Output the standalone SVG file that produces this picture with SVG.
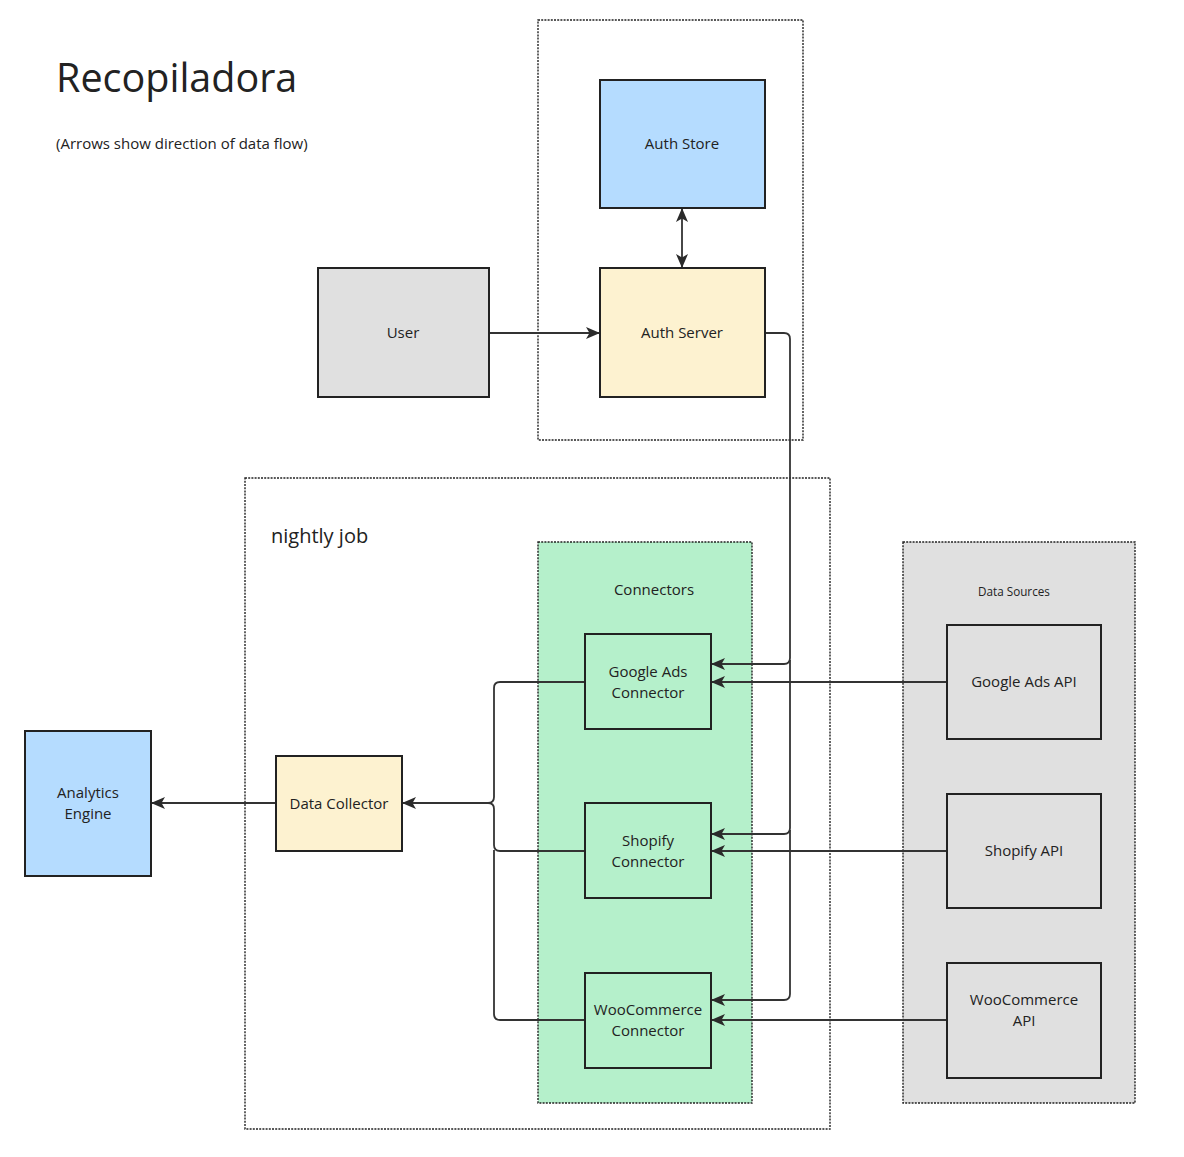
<svg xmlns="http://www.w3.org/2000/svg" width="1184" height="1157" viewBox="0 0 1184 1157">
<style>
text{font-family:"Open Sans","Noto Sans","Liberation Sans",sans-serif;fill:#222;}
.node{stroke:#222;stroke-width:2;}
.grp{stroke:#222;stroke-width:1.4;stroke-dasharray:2 1.2;}
.lbl{font-size:15px;text-anchor:middle;}
.edge{fill:none;stroke:#333;stroke-width:1.8;}
</style>
<defs>
<marker id="ah" viewBox="0 0 14 12" refX="13" refY="6" markerWidth="14" markerHeight="12" markerUnits="userSpaceOnUse" orient="auto-start-reverse">
<path d="M0,0 L14,6 L0,12 L3.5,6 Z" fill="#2a2a2a"/>
</marker>
</defs>
<rect width="1184" height="1157" fill="#fff"/>
<text x="56" y="92" font-size="39.5">Recopiladora</text>
<text x="56" y="149" font-size="15">(Arrows show direction of data flow)</text>

<g id="auth-group"><rect class="grp" x="538" y="20" width="265" height="420" fill="none"/></g>
<g id="nightly-job"><rect class="grp" x="245" y="478" width="585" height="651" fill="none"/>
<text x="271" y="543" font-size="20">nightly job</text></g>
<g id="connectors-group"><rect class="grp" x="538" y="542" width="214" height="561" fill="#b5f0cb"/>
<text class="lbl" x="654" y="595">Connectors</text></g>
<g id="data-sources-group"><rect class="grp" x="903" y="542" width="232" height="561" fill="#e0e0e0"/>
<text x="1014" y="596" font-size="11.7" text-anchor="middle">Data Sources</text></g>

<g id="edges">
<path class="edge" d="M682,209 V267" marker-start="url(#ah)" marker-end="url(#ah)"/>
<path class="edge" d="M489,333 H599" marker-end="url(#ah)"/>
<path class="edge" d="M765,333 H784 Q790,333 790,339 V658 Q790,664 784,664 H712" marker-end="url(#ah)"/>
<path class="edge" d="M790,660 V828 Q790,834 784,834 H712" marker-end="url(#ah)"/>
<path class="edge" d="M790,830 V994 Q790,1000 784,1000 H712" marker-end="url(#ah)"/>
<path class="edge" d="M947,682 H712" marker-end="url(#ah)"/>
<path class="edge" d="M947,851 H712" marker-end="url(#ah)"/>
<path class="edge" d="M947,1020 H712" marker-end="url(#ah)"/>
<path class="edge" d="M585,682 H500 Q494,682 494,688 V797 Q494,803 488,803"/>
<path class="edge" d="M585,851 H500 Q494,851 494,845 V809 Q494,803 488,803"/>
<path class="edge" d="M585,1020 H500 Q494,1020 494,1014 V850"/>
<path class="edge" d="M489,803 H403" marker-end="url(#ah)"/>
<path class="edge" d="M276,803 H152" marker-end="url(#ah)"/>
</g>

<g id="auth-store"><rect class="node" x="600" y="80" width="165" height="128" fill="#b5dcff"/><text class="lbl" x="682" y="149">Auth Store</text></g>
<g id="auth-server"><rect class="node" x="600" y="268" width="165" height="129" fill="#fdf2d0"/><text class="lbl" x="682" y="338">Auth Server</text></g>
<g id="user"><rect class="node" x="318" y="268" width="171" height="129" fill="#e0e0e0"/><text class="lbl" x="403" y="338">User</text></g>
<g id="google-ads-connector"><rect class="node" x="585" y="634" width="126" height="95" fill="#b5f0cb"/><text class="lbl" x="648" y="677">Google Ads</text><text class="lbl" x="648" y="698">Connector</text></g>
<g id="shopify-connector"><rect class="node" x="585" y="803" width="126" height="95" fill="#b5f0cb"/><text class="lbl" x="648" y="846">Shopify</text><text class="lbl" x="648" y="867">Connector</text></g>
<g id="woocommerce-connector"><rect class="node" x="585" y="973" width="126" height="95" fill="#b5f0cb"/><text class="lbl" x="648" y="1015">WooCommerce</text><text class="lbl" x="648" y="1036">Connector</text></g>
<g id="google-ads-api"><rect class="node" x="947" y="625" width="154" height="114" fill="#e0e0e0"/><text class="lbl" x="1024" y="687">Google Ads API</text></g>
<g id="shopify-api"><rect class="node" x="947" y="794" width="154" height="114" fill="#e0e0e0"/><text class="lbl" x="1024" y="856">Shopify API</text></g>
<g id="woocommerce-api"><rect class="node" x="947" y="963" width="154" height="115" fill="#e0e0e0"/><text class="lbl" x="1024" y="1005">WooCommerce</text><text class="lbl" x="1024" y="1026">API</text></g>
<g id="data-collector"><rect class="node" x="276" y="756" width="126" height="95" fill="#fdf2d0"/><text class="lbl" x="339" y="809">Data Collector</text></g>
<g id="analytics-engine"><rect class="node" x="25" y="731" width="126" height="145" fill="#b5dcff"/><text class="lbl" x="88" y="798">Analytics</text><text class="lbl" x="88" y="819">Engine</text></g>
</svg>
